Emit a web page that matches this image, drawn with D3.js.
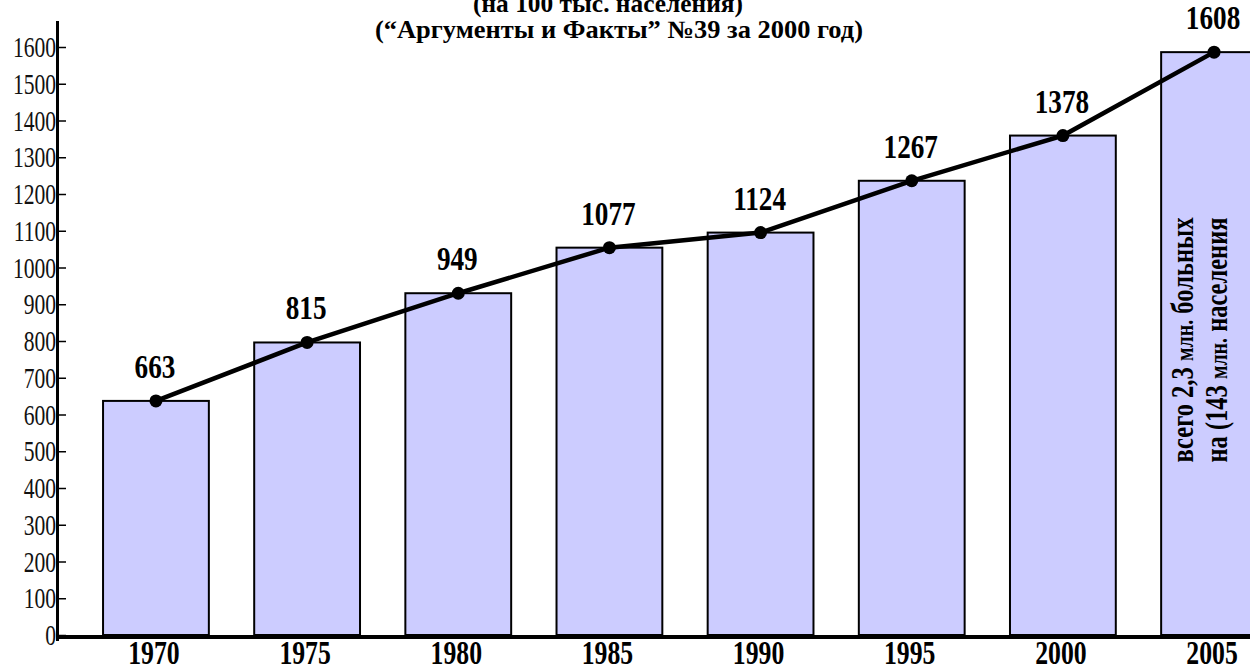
<!DOCTYPE html>
<html>
<head>
<meta charset="utf-8">
<script src="https://cdn.jsdelivr.net/npm/d3@7/dist/d3.min.js"></script>
<style>
body { margin: 0; background: #fff; }
svg { display: block; }
text { font-family: "Times New Roman", "Liberation Serif", "DejaVu Serif", serif; }
</style>
</head>
<body>
<svg width="1250" height="670"></svg>
<script>
// data
var years = ["1970", "1975", "1980", "1985", "1990", "1995", "2000", "2005"];
var barValues = [637, 796, 930, 1054, 1095, 1236, 1359, 1586];   // drawn heights
var valueLabels = ["663", "815", "949", "1077", "1124", "1267", "1378", "1608"];
var yTicks = [0, 100, 200, 300, 400, 500, 600, 700, 800, 900, 1000, 1100, 1200, 1300, 1400, 1500, 1600];
var titleLines = ["(на 100 тыс. населения)", "(\u201cАргументы и Факты\u201d №39 за 2000 год)"];
var noteLines = [
    ["всего 2,3 ", "млн.", " больных"],
    ["на (143 ", "млн.", " населения"]
];

var svg = d3.select("svg");

var y = d3.scaleLinear().domain([0, 1600]).range([635, 47]);
var x = d3.scaleBand().domain(years)
    .range([58, 1312])
    .paddingInner(0.3)
    .paddingOuter(0.298);

// bars
svg.append("g").selectAll("rect")
    .data(years)
    .enter().append("rect")
    .attr("x", function (d) { return x(d); })
    .attr("y", function (d, i) { return y(barValues[i]); })
    .attr("width", x.bandwidth())
    .attr("height", function (d, i) { return y(0) - y(barValues[i]); })
    .attr("fill", "#ccccff")
    .attr("stroke", "#000")
    .attr("stroke-width", 2);

// y axis
var yAxis = svg.append("g")
    .attr("transform", "translate(59,0)")
    .call(d3.axisLeft(y).tickValues(yTicks).tickFormat(d3.format("d"))
        .tickSizeInner(-7).tickSizeOuter(0).tickPadding(4));
yAxis.select(".domain").remove();
yAxis.selectAll("line").attr("stroke", "#000").attr("stroke-width", 1.5);
yAxis.selectAll("text")
    .attr("font-size", 30)
    .attr("fill", "#111")
    .attr("transform", "scale(0.72,1)");

svg.append("line")
    .attr("x1", 57.5).attr("x2", 57.5)
    .attr("y1", 21).attr("y2", 641)
    .attr("stroke", "#000").attr("stroke-width", 3);
svg.append("line")
    .attr("x1", 56).attr("x2", 1250)
    .attr("y1", y(0) + 2).attr("y2", y(0) + 2)
    .attr("stroke", "#000").attr("stroke-width", 4);

// x labels
svg.append("g").selectAll("text")
    .data(years)
    .enter().append("text")
    .attr("transform", function (d) {
        return "translate(" + (x(d) + x.bandwidth() / 2 - 2) + ",664) scale(0.78,1)";
    })
    .attr("text-anchor", "middle")
    .attr("font-size", 33)
    .attr("font-weight", "bold")
    .text(function (d) { return d; });

// line with dots
var line = d3.line()
    .x(function (d, i) { return x(years[i]) + x.bandwidth() / 2; })
    .y(function (d) { return y(d); });

svg.append("path")
    .datum(barValues)
    .attr("d", line)
    .attr("fill", "none")
    .attr("stroke", "#000")
    .attr("stroke-width", 4.5);

svg.append("g").selectAll("circle")
    .data(barValues)
    .enter().append("circle")
    .attr("cx", function (d, i) { return x(years[i]) + x.bandwidth() / 2; })
    .attr("cy", function (d) { return y(d); })
    .attr("r", 6.5)
    .attr("fill", "#000");

// value labels
svg.append("g").selectAll("text")
    .data(valueLabels)
    .enter().append("text")
    .attr("transform", function (d, i) {
        return "translate(" + (x(years[i]) + x.bandwidth() / 2 - 1) + "," + (y(barValues[i]) - 23) + ") scale(0.8,1)";
    })
    .attr("text-anchor", "middle")
    .attr("font-size", 34)
    .attr("font-weight", "bold")
    .text(function (d) { return d; });

// title
svg.append("text")
    .attr("x", 608).attr("y", 12)
    .attr("text-anchor", "middle")
    .attr("font-size", 25)
    .attr("font-weight", "bold")
    .attr("textLength", 270)
    .attr("lengthAdjust", "spacingAndGlyphs")
    .text(titleLines[0]);
svg.append("text")
    .attr("x", 619).attr("y", 38)
    .attr("text-anchor", "middle")
    .attr("font-size", 25)
    .attr("font-weight", "bold")
    .attr("textLength", 488)
    .attr("lengthAdjust", "spacingAndGlyphs")
    .text(titleLines[1]);

// rotated note inside the last bar
var cx = x("2005") + x.bandwidth() / 2;
noteLines.forEach(function (parts, k) {
    var t = svg.append("text")
        .attr("transform", "translate(" + (cx - 21 + k * 34) + ",340) rotate(-90)")
        .attr("text-anchor", "middle")
        .attr("font-weight", "bold")
        .attr("font-size", 32)
        .attr("textLength", 245)
        .attr("lengthAdjust", "spacingAndGlyphs");
    parts.forEach(function (p, j) {
        t.append("tspan")
            .attr("font-size", j === 1 ? 26 : 32)
            .text(p);
    });
});
</script>
</body>
</html>
